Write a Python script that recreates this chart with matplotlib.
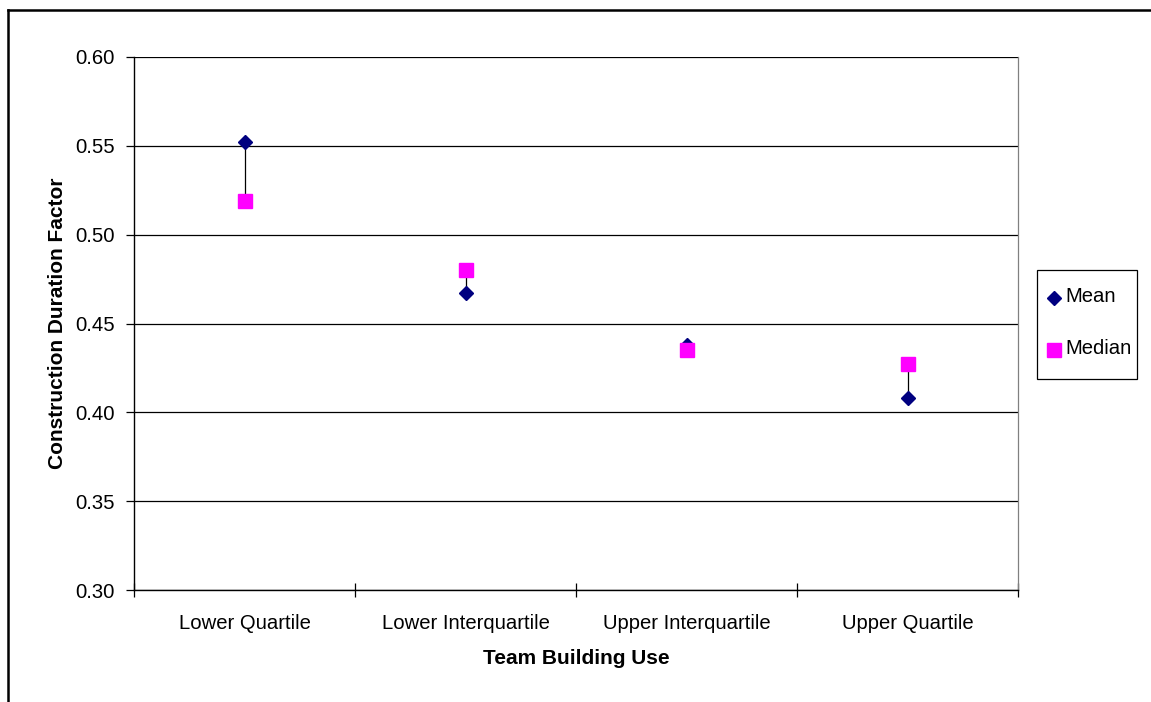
import numpy as np
import matplotlib
matplotlib.use("Agg")
import matplotlib.pyplot as plt
from matplotlib.lines import Line2D
from matplotlib.patches import Rectangle

plt.rcParams['font.family'] = ['Liberation Sans', 'DejaVu Sans']

# values
categories = ["Lower Quartile", "Lower Interquartile", "Upper Interquartile", "Upper Quartile"]
mean_vals = [0.552, 0.467, 0.438, 0.408]
median_vals = [0.519, 0.480, 0.435, 0.427]
y_ticks = [0.30, 0.35, 0.40, 0.45, 0.50, 0.55, 0.60]
series_names = ["Mean", "Median"]

W, H = 1151, 702
fig = plt.figure(figsize=(W / 100, H / 100), dpi=100)
ax = fig.add_axes([134 / W, 1 - 590 / H, 884 / W, 533 / H])

x = np.arange(len(categories))

# high-low lines between mean and median
for xi, m, md in zip(x, mean_vals, median_vals):
    ax.plot([xi, xi], [m, md], color='black', lw=0.9, zorder=2)

mean_style = dict(linestyle='none', marker='D', ms=7.6, color='#000080')
median_style = dict(linestyle='none', marker='s', ms=10.3, color='#FF00FF')
ax.plot(x, mean_vals, zorder=3, **mean_style)
ax.plot(x, median_vals, zorder=4, **median_style)

ax.set_xlim(-0.5, len(categories) - 0.5)
ax.set_ylim(0.30, 0.60)
ax.set_yticks(y_ticks)
ax.set_yticklabels([f"{v:.2f}" for v in y_ticks], fontsize=14.6)
ax.yaxis.grid(True, color='black', lw=0.9)
ax.set_axisbelow(True)

ax.set_xticks(x)
ax.set_xticklabels(categories, fontsize=14.6)
ax.set_xticks(np.arange(-0.5, len(categories)), minor=True)
ax.tick_params(axis='x', which='major', length=0, pad=17)
ax.tick_params(axis='x', which='minor', length=9.5, width=0.9, direction='inout')
ax.tick_params(axis='y', length=6, width=0.9, pad=8)

for side in ['left', 'bottom']:
    ax.spines[side].set_color('black')
    ax.spines[side].set_linewidth(1.0)
ax.spines['right'].set_color('#808080')
ax.spines['right'].set_linewidth(0.9)
ax.spines['top'].set_visible(False)

ax.set_ylabel("Construction Duration Factor", fontsize=15, fontweight='bold', labelpad=5.5)
ax.set_xlabel("Team Building Use", fontsize=15, fontweight='bold', labelpad=11.5)

# legend box drawn by hand to match the reference's spacing
fig.add_artist(Rectangle((1037 / W, 1 - 379 / H), 100 / W, 109 / H, transform=fig.transFigure,
                         facecolor='white', edgecolor='black', lw=0.9))
for name, style, yc in zip(series_names, [mean_style, median_style], [298, 350]):
    fig.add_artist(Line2D([1054 / W], [1 - yc / H], transform=fig.transFigure, **style))
    fig.text(1065 / W, 1 - (yc - 2) / H, name, fontsize=14.6, va='center', ha='left')

# outer chart frame (only top and left visible in the crop)
fig.add_artist(Line2D([8 / W, 8 / W], [0, 1 - 10 / H], color='black', lw=1.8))
fig.add_artist(Line2D([8 / W, 1], [1 - 10 / H, 1 - 10 / H], color='black', lw=1.8))

fig.savefig("out.png", dpi=100)
